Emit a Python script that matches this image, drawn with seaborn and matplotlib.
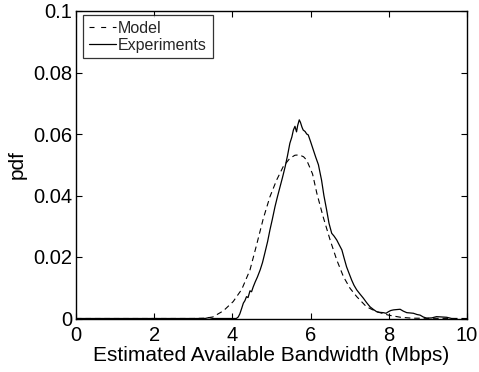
import numpy as np
import pandas as pd
import matplotlib
matplotlib.use("Agg")
import matplotlib.pyplot as plt
import seaborn as sns

# ---- data ----
model_x = [0, 3.0, 3.3, 3.5, 3.77, 4.02, 4.24, 4.45, 4.62, 4.79, 4.96, 5.13, 5.30,
           5.47, 5.60, 5.71, 5.82, 5.90, 6.05, 6.16, 6.32, 6.50, 6.67, 6.84, 7.01,
           7.18, 7.43, 7.69, 7.99, 8.3, 8.6, 10]
model_y = [0, 0, 0.0001, 0.0005, 0.0025, 0.0055, 0.0095, 0.0158, 0.0240, 0.0325,
           0.0396, 0.0450, 0.0494, 0.0521, 0.0531, 0.0532, 0.0526, 0.0515, 0.0470,
           0.0407, 0.0331, 0.0255, 0.0190, 0.0136, 0.0098, 0.0071, 0.0038, 0.0022,
           0.0011, 0.0004, 0.0001, 0]

exp_x = [0, 3.3, 3.4, 3.5, 4.1, 4.15, 4.19, 4.24, 4.28, 4.32, 4.36, 4.40, 4.45, 4.49,
         4.53, 4.58, 4.64, 4.71, 4.77, 4.83, 4.90, 4.96, 5.02, 5.09, 5.15, 5.22, 5.28,
         5.35, 5.41, 5.47, 5.52, 5.56, 5.60, 5.64, 5.67, 5.71, 5.74, 5.78, 5.81, 5.86,
         5.90, 5.94, 6.00, 6.07, 6.13, 6.20, 6.28, 6.34, 6.41, 6.47, 6.54, 6.60, 6.67,
         6.73, 6.80, 6.86, 6.92, 6.98, 7.05, 7.11, 7.18, 7.26, 7.35, 7.43, 7.52, 7.60,
         7.69, 7.77, 7.86, 7.93, 7.99, 8.05, 8.12, 8.20, 8.29, 8.37, 8.46, 8.55, 8.63,
         8.72, 8.80, 8.88, 8.97, 9.10, 9.22, 9.35, 9.48, 9.61]
exp_y = [0, 0, 0.0003, 0, 0, 0.0005, 0.0015, 0.0034, 0.0050, 0.0058, 0.0071, 0.0068,
         0.0090, 0.0087, 0.0102, 0.0118, 0.0135, 0.0158, 0.0182, 0.0213, 0.0250,
         0.0288, 0.0322, 0.0364, 0.0395, 0.0429, 0.0458, 0.0494, 0.0530, 0.0570,
         0.0590, 0.0613, 0.0625, 0.0607, 0.0628, 0.0646, 0.0638, 0.0622, 0.0613,
         0.0608, 0.0600, 0.0597, 0.0575, 0.0548, 0.0525, 0.0500, 0.0450, 0.0400,
         0.0353, 0.0310, 0.0277, 0.0268, 0.0255, 0.0240, 0.0223, 0.0195, 0.0168,
         0.0148, 0.0125, 0.0108, 0.0093, 0.0080, 0.0066, 0.0052, 0.0038, 0.0030,
         0.0022, 0.0020, 0.0019, 0.0017, 0.0022, 0.0026, 0.0028, 0.0029, 0.0030,
         0.0024, 0.0019, 0.0018, 0.0017, 0.0013, 0.0011, 0.0005, 0.0001, 0.0002,
         0.0006, 0.0005, 0.0004, 0.0]

x_ticks = [0, 2, 4, 6, 8, 10]
y_ticks = [0, 0.02, 0.04, 0.06, 0.08, 0.1]
y_tick_labels = ["0", "0.02", "0.04", "0.06", "0.08", "0.1"]

sns.set_theme(style="white")
plt.rcParams["font.family"] = ["Liberation Sans", "DejaVu Sans"]
plt.rcParams["xtick.direction"] = "in"
plt.rcParams["ytick.direction"] = "in"

fig = plt.figure(figsize=(4.79, 3.72), dpi=100)
ax = fig.add_axes([76 / 479, (372 - 318.5) / 372, 391 / 479, 307.5 / 372])

df_model = pd.DataFrame({"x": model_x, "y": model_y})
df_exp = pd.DataFrame({"x": exp_x, "y": exp_y})

sns.lineplot(data=df_model, x="x", y="y", ax=ax, color="black", linewidth=0.8,
             sort=False, label="Model", dashes=False)
sns.lineplot(data=df_exp, x="x", y="y", ax=ax, color="black", linewidth=0.9,
             sort=False, label="Experiments")
ax.lines[0].set_dashes((5, 3.5))

ax.set_xlim(0, 10)
ax.set_ylim(0, 0.1)
ax.set_xticks(x_ticks)
ax.set_xticklabels([str(t) for t in x_ticks])
ax.set_yticks(y_ticks)
ax.set_yticklabels(y_tick_labels)
ax.tick_params(axis="both", which="both", direction="in", length=4, width=0.8,
               labelsize=14.5, colors="black", top=True, right=True,
               bottom=True, left=True)
ax.tick_params(axis="x", pad=5.5)
ax.tick_params(axis="y", pad=2.5)
for s in ax.spines.values():
    s.set_color("black")
    s.set_linewidth(1.0)
    s.set_visible(True)

ax.set_xlabel("Estimated Available Bandwidth (Mbps)", fontsize=15, color="black",
              labelpad=0.5)
ax.set_ylabel("pdf", fontsize=15, color="black", labelpad=5)

leg = ax.legend(loc="upper left",
                bbox_to_anchor=((83 - 76) / 391, (318.5 - 15) / 307.5),
                borderaxespad=0, fontsize=11.5, frameon=True, fancybox=False,
                handlelength=1.7, handletextpad=0.15, borderpad=0.35,
                labelspacing=0.12)
leg.get_frame().set_edgecolor("black")
leg.get_frame().set_linewidth(0.9)
leg.get_lines()[0].set_dashes((4.5, 6))

fig.savefig("out.png", dpi=100)
